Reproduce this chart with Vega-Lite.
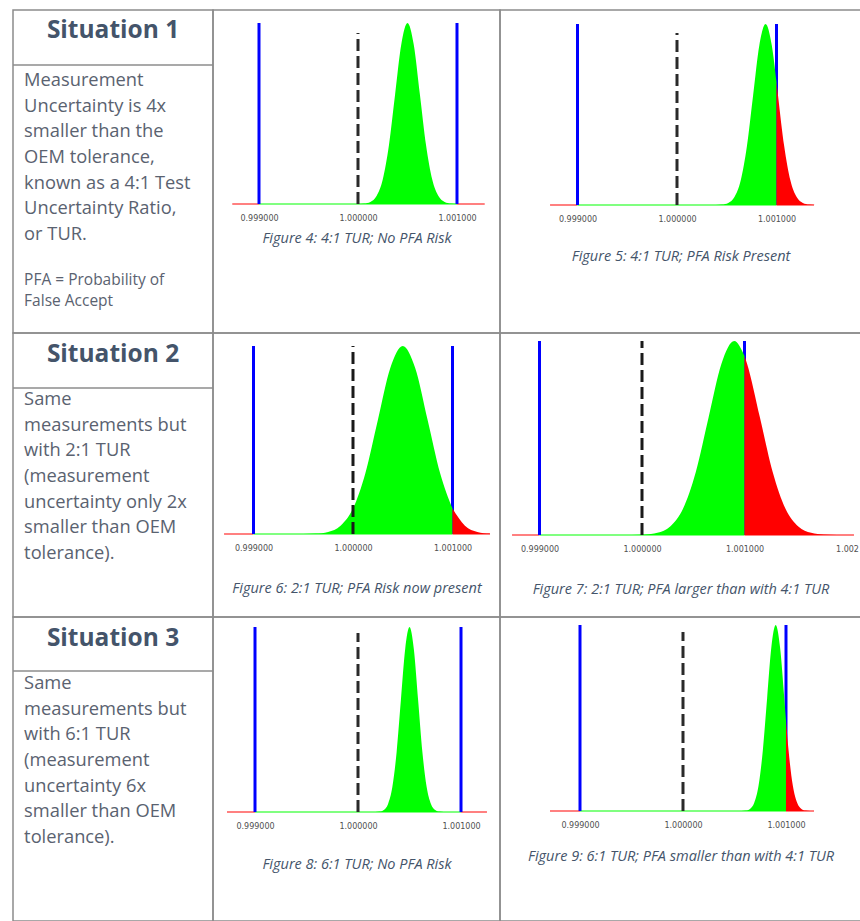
{
  "$schema": "https://vega.github.io/schema/vega-lite/v6.json",
  "padding": {"left": 11, "top": 9, "right": 0, "bottom": 0},
  "background": "white",
  "config": {
    "view": {"stroke": "#8c8c8c", "strokeWidth": 1.5},
    "axisX": {"domain": false, "ticks": false, "tickSize": 0, "grid": false, "labelFont": "DejaVu Sans", "labelFontSize": 8, "labelColor": "#505050", "labelPadding": 10, "labelFlush": false, "labelOverlap": false, "titleFont": "Open Sans", "titleFontStyle": "italic", "titleFontWeight": "normal", "titleFontSize": 14.5, "titleColor": "#44546a"}
  },
  "columns": 3,
  "spacing": 0,
  "bounds": "flush",
  "align": "each",
  "concat": [
    {
      "width": 200, "height": 323,
      "layer": [
        {"data": {"values": [{"t": "Situation 1"}]},
         "mark": {"type": "text", "font": "Open Sans", "fontWeight": "bold", "fontSize": 24.5, "color": "#44546a", "baseline": "middle"},
         "encoding": {"y": {"datum": -0.926, "type": "quantitative", "scale": {"domain": [-1.7626, 10.806], "reverse": true, "nice": false, "zero": false}, "axis": null},
           "text": {"field": "t", "type": "nominal"}}},
        {"data": {"values": [{}]},
         "mark": {"type": "rule", "color": "#8c8c8c", "strokeWidth": 1.5},
         "encoding": {"y": {"datum": 0.3775, "type": "quantitative", "axis": null}}},
        {"data": {"values": [{"t": "Measurement\nUncertainty is 4x\nsmaller than the\nOEM tolerance,\nknown as a 4:1 Test\nUncertainty Ratio,\nor TUR."}]},
         "mark": {"type": "text", "lineBreak": "\n", "lineHeight": 25.7, "align": "left", "baseline": "middle", "font": "Open Sans", "fontSize": 18.3, "color": "#5a6270"},
         "encoding": {"x": {"datum": 0, "type": "quantitative", "scale": {"domain": [-1, 17], "nice": false, "zero": false}, "axis": null},
           "y": {"datum": 1, "type": "quantitative", "axis": null},
           "text": {"field": "t", "type": "nominal"}}},
        {"data": {"values": [{"t": "PFA = Probability of\nFalse Accept"}]},
         "mark": {"type": "text", "lineBreak": "\n", "lineHeight": 21, "align": "left", "baseline": "middle", "font": "Open Sans", "fontSize": 15.5, "color": "#5a6270"},
         "encoding": {"x": {"datum": 0, "type": "quantitative", "scale": {"domain": [-1, 17], "nice": false, "zero": false}, "axis": null},
           "y": {"datum": 8.743, "type": "quantitative", "axis": null},
           "text": {"field": "t", "type": "nominal"}}}
      ]
    },
    {
      "width": 287, "height": 323,
      "encoding": {"x": {"field": "x", "type": "quantitative", "scale": {"domain": [0.9985354, 1.0014344], "nice": false, "zero": false},
        "axis": {"values": [0.999, 1.0, 1.001], "format": ".6f", "offset": -129, "title": "Figure 4: 4:1 TUR; No PFA Risk", "titlePadding": 9}}},
      "layer": [
        {"data": {"values": [{"x": 0.99873, "x2": 0.999, "zone": "out"}, {"x": 0.999, "x2": 1.001, "zone": "in"}, {"x": 1.001, "x2": 1.00128, "zone": "out"}]},
         "mark": {"type": "rule", "strokeWidth": 2},
         "encoding": {"x2": {"field": "x2"}, "y": {"datum": 0, "type": "quantitative", "scale": {"domain": [-0.7127, 1.0718], "nice": false}, "axis": null},
           "stroke": {"field": "zone", "type": "nominal", "scale": {"domain": ["in", "out"], "range": ["#80ff80", "#ff8080"]}, "legend": null}}},
        {"data": {"values": [{"x": 0.999}, {"x": 1.001}]},
         "mark": {"type": "rule", "color": "#0000ff", "strokeWidth": 3},
         "encoding": {"y": {"datum": 0, "type": "quantitative", "axis": null}, "y2": {"datum": 1}}},
        {"data": {"values": [
          {"x": 1.0, "y": 0.0003, "zone": "in"}, {"x": 1.0000625, "y": 0.0022, "zone": "in"}, {"x": 1.000125, "y": 0.0111, "zone": "in"},
          {"x": 1.0001875, "y": 0.0439, "zone": "in"}, {"x": 1.00025, "y": 0.1353, "zone": "in"}, {"x": 1.0003125, "y": 0.3247, "zone": "in"},
          {"x": 1.000375, "y": 0.6065, "zone": "in"}, {"x": 1.0004375, "y": 0.8825, "zone": "in"}, {"x": 1.0005, "y": 1, "zone": "in"},
          {"x": 1.0005625, "y": 0.8825, "zone": "in"}, {"x": 1.000625, "y": 0.6065, "zone": "in"}, {"x": 1.0006875, "y": 0.3247, "zone": "in"},
          {"x": 1.00075, "y": 0.1353, "zone": "in"}, {"x": 1.0008125, "y": 0.0439, "zone": "in"}, {"x": 1.000875, "y": 0.0111, "zone": "in"},
          {"x": 1.0009375, "y": 0.0022, "zone": "in"}, {"x": 1.001, "y": 0.0003, "zone": "in"}]},
         "mark": {"type": "area", "interpolate": "monotone"},
         "encoding": {"y": {"field": "y", "type": "quantitative", "stack": null, "scale": {"domain": [-0.7127, 1.0718], "nice": false}, "axis": null}, "y2": {"datum": 0},
           "fill": {"field": "zone", "type": "nominal", "scale": {"domain": ["in", "out"], "range": ["#00ff00", "#ff0000"]}, "legend": null}}},
        {"data": {"values": [{"x": 1.0}]},
         "mark": {"type": "rule", "color": "#2a2a2a", "strokeWidth": 3, "strokeDash": [12, 5]},
         "encoding": {"y": {"datum": 0, "type": "quantitative", "axis": null}, "y2": {"datum": 0.945}}}
      ]
    },
    {
      "width": 361, "height": 323,
      "encoding": {"x": {"field": "x", "type": "quantitative", "scale": {"domain": [0.9982211, 1.0018492], "nice": false, "zero": false},
        "axis": {"values": [0.999, 1.0, 1.001], "format": ".6f", "offset": -128, "title": "Figure 5: 4:1 TUR; PFA Risk Present", "titlePadding": 26}}},
      "layer": [
        {"data": {"values": [{"x": 0.998724, "x2": 0.999, "zone": "out"}, {"x": 0.999, "x2": 1.001, "zone": "in"}, {"x": 1.001, "x2": 1.001377, "zone": "out"}]},
         "mark": {"type": "rule", "strokeWidth": 2},
         "encoding": {"x2": {"field": "x2"}, "y": {"datum": 0, "type": "quantitative", "scale": {"domain": [-0.7072, 1.0773], "nice": false}, "axis": null},
           "stroke": {"field": "zone", "type": "nominal", "scale": {"domain": ["in", "out"], "range": ["#80ff80", "#ff8080"]}, "legend": null}}},
        {"data": {"values": [{"x": 0.999}, {"x": 1.001}]},
         "mark": {"type": "rule", "color": "#0000ff", "strokeWidth": 3},
         "encoding": {"y": {"datum": 0, "type": "quantitative", "axis": null}, "y2": {"datum": 1}}},
        {"data": {"values": [
          {"x": 1.00039, "y": 0.0003, "zone": "in"}, {"x": 1.0004525, "y": 0.0022, "zone": "in"}, {"x": 1.000515, "y": 0.0111, "zone": "in"},
          {"x": 1.0005775, "y": 0.0439, "zone": "in"}, {"x": 1.00064, "y": 0.1353, "zone": "in"}, {"x": 1.0007025, "y": 0.3247, "zone": "in"},
          {"x": 1.000765, "y": 0.6065, "zone": "in"}, {"x": 1.0008275, "y": 0.8825, "zone": "in"}, {"x": 1.00089, "y": 1, "zone": "in"},
          {"x": 1.0009525, "y": 0.8825, "zone": "in"}, {"x": 1.001, "y": 0.679, "zone": "in"},
          {"x": 1.001, "y": 0.679, "zone": "out"}, {"x": 1.001015, "y": 0.6065, "zone": "out"}, {"x": 1.0010775, "y": 0.3247, "zone": "out"},
          {"x": 1.00114, "y": 0.1353, "zone": "out"}, {"x": 1.0012025, "y": 0.0439, "zone": "out"}, {"x": 1.001265, "y": 0.0111, "zone": "out"},
          {"x": 1.0013275, "y": 0.0022, "zone": "out"}, {"x": 1.00139, "y": 0.0003, "zone": "out"}]},
         "mark": {"type": "area", "interpolate": "monotone"},
         "encoding": {"y": {"field": "y", "type": "quantitative", "stack": null, "scale": {"domain": [-0.7072, 1.0773], "nice": false}, "axis": null}, "y2": {"datum": 0},
           "fill": {"field": "zone", "type": "nominal", "scale": {"domain": ["in", "out"], "range": ["#00ff00", "#ff0000"]}, "legend": null}}},
        {"data": {"values": [{"x": 1.0}]},
         "mark": {"type": "rule", "color": "#2a2a2a", "strokeWidth": 3, "strokeDash": [12, 5]},
         "encoding": {"y": {"datum": 0, "type": "quantitative", "axis": null}, "y2": {"datum": 0.95}}}
      ]
    },
    {
      "width": 200, "height": 284,
      "layer": [
        {"data": {"values": [{"t": "Situation 2"}]},
         "mark": {"type": "text", "font": "Open Sans", "fontWeight": "bold", "fontSize": 24.5, "color": "#44546a", "baseline": "middle"},
         "encoding": {"y": {"datum": -0.751, "type": "quantitative", "scale": {"domain": [-1.607, 9.444], "reverse": true, "nice": false, "zero": false}, "axis": null},
           "text": {"field": "t", "type": "nominal"}}},
        {"data": {"values": [{}]},
         "mark": {"type": "rule", "color": "#8c8c8c", "strokeWidth": 1.5},
         "encoding": {"y": {"datum": 0.533, "type": "quantitative", "axis": null}}},
        {"data": {"values": [{"t": "Same\nmeasurements but\nwith 2:1 TUR\n(measurement\nuncertainty only 2x\nsmaller than OEM\ntolerance)."}]},
         "mark": {"type": "text", "lineBreak": "\n", "lineHeight": 25.7, "align": "left", "baseline": "middle", "font": "Open Sans", "fontSize": 18.3, "color": "#5a6270"},
         "encoding": {"x": {"datum": 0, "type": "quantitative", "scale": {"domain": [-1, 17], "nice": false, "zero": false}, "axis": null},
           "y": {"datum": 1, "type": "quantitative", "axis": null},
           "text": {"field": "t", "type": "nominal"}}}
      ]
    },
    {
      "width": 287, "height": 284,
      "encoding": {"x": {"field": "x", "type": "quantitative", "scale": {"domain": [0.998593, 1.0014774], "nice": false, "zero": false},
        "axis": {"values": [0.999, 1.0, 1.001], "format": ".6f", "offset": -83, "title": "Figure 6: 2:1 TUR; PFA Risk now present", "titlePadding": 29}}},
      "layer": [
        {"data": {"values": [{"x": 0.998704, "x2": 0.999, "zone": "out"}, {"x": 0.999, "x2": 1.001, "zone": "in"}, {"x": 1.001, "x2": 1.001377, "zone": "out"}]},
         "mark": {"type": "rule", "strokeWidth": 2},
         "encoding": {"x2": {"field": "x2"}, "y": {"datum": 0, "type": "quantitative", "scale": {"domain": [-0.4415, 1.0691], "nice": false}, "axis": null},
           "stroke": {"field": "zone", "type": "nominal", "scale": {"domain": ["in", "out"], "range": ["#80ff80", "#ff8080"]}, "legend": null}}},
        {"data": {"values": [{"x": 0.999}, {"x": 1.001}]},
         "mark": {"type": "rule", "color": "#0000ff", "strokeWidth": 3},
         "encoding": {"y": {"datum": 0, "type": "quantitative", "axis": null}, "y2": {"datum": 1}}},
        {"data": {"values": [
          {"x": 0.9995, "y": 0.0003, "zone": "in"}, {"x": 0.999625, "y": 0.0022, "zone": "in"}, {"x": 0.99975, "y": 0.0111, "zone": "in"},
          {"x": 0.999875, "y": 0.0439, "zone": "in"}, {"x": 1.0, "y": 0.1353, "zone": "in"}, {"x": 1.000125, "y": 0.3247, "zone": "in"},
          {"x": 1.00025, "y": 0.6065, "zone": "in"}, {"x": 1.000375, "y": 0.8825, "zone": "in"}, {"x": 1.0005, "y": 1, "zone": "in"},
          {"x": 1.000625, "y": 0.8825, "zone": "in"}, {"x": 1.00075, "y": 0.6065, "zone": "in"}, {"x": 1.000875, "y": 0.3247, "zone": "in"},
          {"x": 1.001, "y": 0.1353, "zone": "in"},
          {"x": 1.001, "y": 0.1353, "zone": "out"}, {"x": 1.001125, "y": 0.0439, "zone": "out"}, {"x": 1.00125, "y": 0.0111, "zone": "out"},
          {"x": 1.001375, "y": 0.0022, "zone": "out"}]},
         "mark": {"type": "area", "interpolate": "monotone"},
         "encoding": {"y": {"field": "y", "type": "quantitative", "stack": null, "scale": {"domain": [-0.4415, 1.0691], "nice": false}, "axis": null}, "y2": {"datum": 0},
           "fill": {"field": "zone", "type": "nominal", "scale": {"domain": ["in", "out"], "range": ["#00ff00", "#ff0000"]}, "legend": null}}},
        {"data": {"values": [{"x": 1.0}]},
         "mark": {"type": "rule", "color": "#1a1a1a", "strokeWidth": 3, "strokeDash": [12, 5]},
         "encoding": {"y": {"datum": 0, "type": "quantitative", "axis": null}, "y2": {"datum": 1}}}
      ]
    },
    {
      "width": 361, "height": 284,
      "encoding": {"x": {"field": "x", "type": "quantitative", "scale": {"domain": [0.9986146, 1.0021366], "nice": false, "zero": false},
        "axis": {"values": [0.999, 1.0, 1.001, 1.002], "format": ".6f", "labelExpr": "datum.value > 1.0015 ? '1.002' : datum.label", "offset": -82, "title": "Figure 7: 2:1 TUR; PFA larger than with 4:1 TUR", "titlePadding": 29}}},
      "layer": [
        {"data": {"values": [{"x": 0.998732, "x2": 0.999, "zone": "out"}, {"x": 0.999, "x2": 1.001, "zone": "in"}, {"x": 1.001, "x2": 1.002068, "zone": "out"}]},
         "mark": {"type": "rule", "strokeWidth": 2},
         "encoding": {"x2": {"field": "x2"}, "y": {"datum": 0, "type": "quantitative", "scale": {"domain": [-0.4227, 1.0412], "nice": false}, "axis": null},
           "stroke": {"field": "zone", "type": "nominal", "scale": {"domain": ["in", "out"], "range": ["#80ff80", "#ff8080"]}, "legend": null}}},
        {"data": {"values": [{"x": 0.999}, {"x": 1.001}]},
         "mark": {"type": "rule", "color": "#0000ff", "strokeWidth": 3},
         "encoding": {"y": {"datum": 0, "type": "quantitative", "axis": null}, "y2": {"datum": 1}}},
        {"data": {"values": [
          {"x": 0.9999, "y": 0.0003, "zone": "in"}, {"x": 1.000025, "y": 0.0022, "zone": "in"}, {"x": 1.00015, "y": 0.0111, "zone": "in"},
          {"x": 1.000275, "y": 0.0439, "zone": "in"}, {"x": 1.0004, "y": 0.1353, "zone": "in"}, {"x": 1.000525, "y": 0.3247, "zone": "in"},
          {"x": 1.00065, "y": 0.6065, "zone": "in"}, {"x": 1.000775, "y": 0.8825, "zone": "in"}, {"x": 1.0009, "y": 1, "zone": "in"},
          {"x": 1.001, "y": 0.9231, "zone": "in"},
          {"x": 1.001, "y": 0.9231, "zone": "out"}, {"x": 1.001025, "y": 0.8825, "zone": "out"}, {"x": 1.00115, "y": 0.6065, "zone": "out"},
          {"x": 1.001275, "y": 0.3247, "zone": "out"}, {"x": 1.0014, "y": 0.1353, "zone": "out"}, {"x": 1.001525, "y": 0.0439, "zone": "out"},
          {"x": 1.00165, "y": 0.0111, "zone": "out"}, {"x": 1.001775, "y": 0.0022, "zone": "out"}, {"x": 1.0019, "y": 0.0003, "zone": "out"}]},
         "mark": {"type": "area", "interpolate": "monotone"},
         "encoding": {"y": {"field": "y", "type": "quantitative", "stack": null, "scale": {"domain": [-0.4227, 1.0412], "nice": false}, "axis": null}, "y2": {"datum": 0},
           "fill": {"field": "zone", "type": "nominal", "scale": {"domain": ["in", "out"], "range": ["#00ff00", "#ff0000"]}, "legend": null}}},
        {"data": {"values": [{"x": 1.0}]},
         "mark": {"type": "rule", "color": "#1a1a1a", "strokeWidth": 3, "strokeDash": [12, 5]},
         "encoding": {"y": {"datum": 0, "type": "quantitative", "axis": null}, "y2": {"datum": 1}}}
      ]
    },
    {
      "width": 200, "height": 304,
      "layer": [
        {"data": {"values": [{"t": "Situation 3"}]},
         "mark": {"type": "text", "font": "Open Sans", "fontWeight": "bold", "fontSize": 24.5, "color": "#44546a", "baseline": "middle"},
         "encoding": {"y": {"datum": -0.77, "type": "quantitative", "scale": {"domain": [-1.607, 10.222], "reverse": true, "nice": false, "zero": false}, "axis": null},
           "text": {"field": "t", "type": "nominal"}}},
        {"data": {"values": [{}]},
         "mark": {"type": "rule", "color": "#8c8c8c", "strokeWidth": 1.5},
         "encoding": {"y": {"datum": 0.494, "type": "quantitative", "axis": null}}},
        {"data": {"values": [{"t": "Same\nmeasurements but\nwith 6:1 TUR\n(measurement\nuncertainty 6x\nsmaller than OEM\ntolerance)."}]},
         "mark": {"type": "text", "lineBreak": "\n", "lineHeight": 25.7, "align": "left", "baseline": "middle", "font": "Open Sans", "fontSize": 18.3, "color": "#5a6270"},
         "encoding": {"x": {"datum": 0, "type": "quantitative", "scale": {"domain": [-1, 17], "nice": false, "zero": false}, "axis": null},
           "y": {"datum": 1, "type": "quantitative", "axis": null},
           "text": {"field": "t", "type": "nominal"}}}
      ]
    },
    {
      "width": 287, "height": 304,
      "encoding": {"x": {"field": "x", "type": "quantitative", "scale": {"domain": [0.9985922, 1.0013786], "nice": false, "zero": false},
        "axis": {"values": [0.999, 1.0, 1.001], "format": ".6f", "offset": -109, "title": "Figure 8: 6:1 TUR; No PFA Risk", "titlePadding": 27}}},
      "layer": [
        {"data": {"values": [{"x": 0.998728, "x2": 0.999, "zone": "out"}, {"x": 0.999, "x2": 1.001, "zone": "in"}, {"x": 1.001, "x2": 1.001252, "zone": "out"}]},
         "mark": {"type": "rule", "strokeWidth": 2},
         "encoding": {"x2": {"field": "x2"}, "y": {"datum": 0, "type": "quantitative", "scale": {"domain": [-0.5892, 1.0541], "nice": false}, "axis": null},
           "stroke": {"field": "zone", "type": "nominal", "scale": {"domain": ["in", "out"], "range": ["#80ff80", "#ff8080"]}, "legend": null}}},
        {"data": {"values": [{"x": 0.999}, {"x": 1.001}]},
         "mark": {"type": "rule", "color": "#0000ff", "strokeWidth": 3},
         "encoding": {"y": {"datum": 0, "type": "quantitative", "axis": null}, "y2": {"datum": 1}}},
        {"data": {"values": [
          {"x": 1.0001668, "y": 0.0003, "zone": "in"}, {"x": 1.0002085, "y": 0.0022, "zone": "in"}, {"x": 1.0002501, "y": 0.0111, "zone": "in"},
          {"x": 1.0002918, "y": 0.0439, "zone": "in"}, {"x": 1.0003334, "y": 0.1353, "zone": "in"}, {"x": 1.0003751, "y": 0.3247, "zone": "in"},
          {"x": 1.0004167, "y": 0.6065, "zone": "in"}, {"x": 1.0004584, "y": 0.8825, "zone": "in"}, {"x": 1.0005, "y": 1, "zone": "in"},
          {"x": 1.0005417, "y": 0.8825, "zone": "in"}, {"x": 1.0005833, "y": 0.6065, "zone": "in"}, {"x": 1.000625, "y": 0.3247, "zone": "in"},
          {"x": 1.0006666, "y": 0.1353, "zone": "in"}, {"x": 1.0007083, "y": 0.0439, "zone": "in"}, {"x": 1.0007499, "y": 0.0111, "zone": "in"},
          {"x": 1.0007916, "y": 0.0022, "zone": "in"}, {"x": 1.0008332, "y": 0.0003, "zone": "in"}]},
         "mark": {"type": "area", "interpolate": "monotone"},
         "encoding": {"y": {"field": "y", "type": "quantitative", "stack": null, "scale": {"domain": [-0.5892, 1.0541], "nice": false}, "axis": null}, "y2": {"datum": 0},
           "fill": {"field": "zone", "type": "nominal", "scale": {"domain": ["in", "out"], "range": ["#00ff00", "#ff0000"]}, "legend": null}}},
        {"data": {"values": [{"x": 1.0}]},
         "mark": {"type": "rule", "color": "#2a2a2a", "strokeWidth": 3, "strokeDash": [12, 5]},
         "encoding": {"y": {"datum": 0, "type": "quantitative", "axis": null}, "y2": {"datum": 0.968}}}
      ]
    },
    {
      "width": 361, "height": 304,
      "encoding": {"x": {"field": "x", "type": "quantitative", "scale": {"domain": [0.9982233, 1.0017282], "nice": false, "zero": false},
        "axis": {"values": [0.999, 1.0, 1.001], "format": ".6f", "offset": -110, "title": "Figure 9: 6:1 TUR; PFA smaller than with 4:1 TUR", "titlePadding": 20}}},
      "layer": [
        {"data": {"values": [{"x": 0.998709, "x2": 0.999, "zone": "out"}, {"x": 0.999, "x2": 1.001, "zone": "in"}, {"x": 1.001, "x2": 1.001272, "zone": "out"}]},
         "mark": {"type": "rule", "strokeWidth": 2},
         "encoding": {"x2": {"field": "x2"}, "y": {"datum": 0, "type": "quantitative", "scale": {"domain": [-0.5914, 1.043], "nice": false}, "axis": null},
           "stroke": {"field": "zone", "type": "nominal", "scale": {"domain": ["in", "out"], "range": ["#80ff80", "#ff8080"]}, "legend": null}}},
        {"data": {"values": [{"x": 0.999}, {"x": 1.001}]},
         "mark": {"type": "rule", "color": "#0000ff", "strokeWidth": 3},
         "encoding": {"y": {"datum": 0, "type": "quantitative", "axis": null}, "y2": {"datum": 1}}},
        {"data": {"values": [
          {"x": 1.0005668, "y": 0.0003, "zone": "in"}, {"x": 1.0006084, "y": 0.0022, "zone": "in"}, {"x": 1.0006501, "y": 0.0111, "zone": "in"},
          {"x": 1.0006917, "y": 0.0439, "zone": "in"}, {"x": 1.0007334, "y": 0.1353, "zone": "in"}, {"x": 1.000775, "y": 0.3247, "zone": "in"},
          {"x": 1.0008167, "y": 0.6065, "zone": "in"}, {"x": 1.0008583, "y": 0.8825, "zone": "in"}, {"x": 1.0009, "y": 1, "zone": "in"},
          {"x": 1.0009417, "y": 0.8825, "zone": "in"}, {"x": 1.0009833, "y": 0.6065, "zone": "in"}, {"x": 1.001, "y": 0.4868, "zone": "in"},
          {"x": 1.001, "y": 0.4868, "zone": "out"}, {"x": 1.001025, "y": 0.3247, "zone": "out"}, {"x": 1.0010666, "y": 0.1353, "zone": "out"},
          {"x": 1.0011083, "y": 0.0439, "zone": "out"}, {"x": 1.00115, "y": 0.0111, "zone": "out"}, {"x": 1.0011916, "y": 0.0022, "zone": "out"},
          {"x": 1.0012332, "y": 0.0003, "zone": "out"}]},
         "mark": {"type": "area", "interpolate": "monotone"},
         "encoding": {"y": {"field": "y", "type": "quantitative", "stack": null, "scale": {"domain": [-0.5914, 1.043], "nice": false}, "axis": null}, "y2": {"datum": 0},
           "fill": {"field": "zone", "type": "nominal", "scale": {"domain": ["in", "out"], "range": ["#00ff00", "#ff0000"]}, "legend": null}}},
        {"data": {"values": [{"x": 1.0}]},
         "mark": {"type": "rule", "color": "#2a2a2a", "strokeWidth": 3, "strokeDash": [12, 5]},
         "encoding": {"y": {"datum": 0, "type": "quantitative", "axis": null}, "y2": {"datum": 0.962}}}
      ]
    }
  ]
}
